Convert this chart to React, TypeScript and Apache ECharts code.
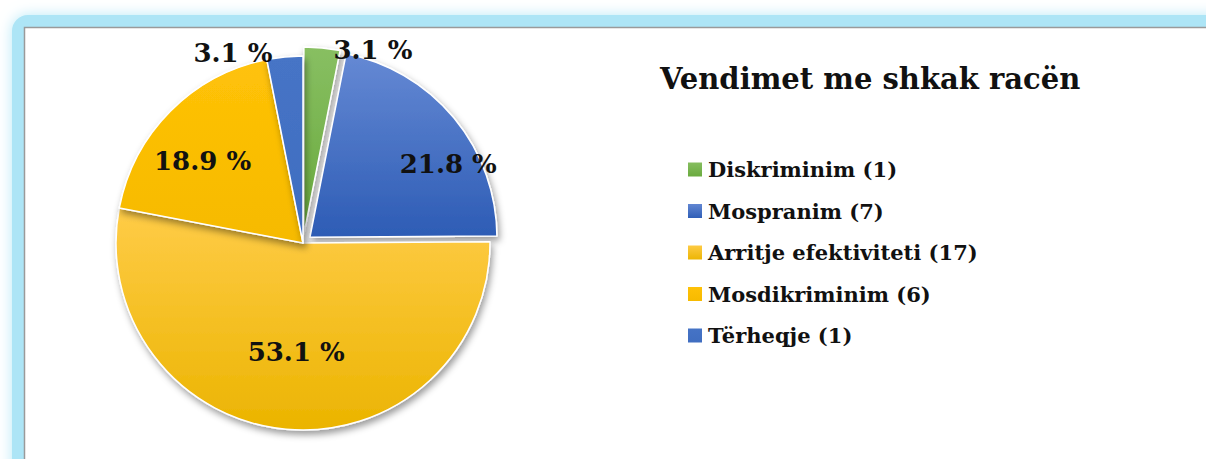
import React, { useEffect, useRef } from "react";
import * as echarts from "echarts";

const categories = ["Diskriminim", "Mospranim", "Arritje efektiviteti", "Mosdikriminim", "Tërheqje"];
const counts = [1, 7, 17, 6, 1];
const percents = [3.1, 21.8, 53.1, 18.9, 3.1];
const percentLabels = ["3.1 %", "21.8 %", "53.1 %", "18.9 %", "3.1 %"];
const exploded = [true, true, false, false, false];
const titleText = "Vendimet me shkak racën";

const FONT = "'DejaVu Serif', 'Liberation Serif', serif";

const gradients: [string, string][] = [
  ["#88BF62", "#68A93C"],
  ["#6589D4", "#2D5CB5"],
  ["#FFCC48", "#EBB400"],
  ["#FFC208", "#F6BA00"],
  ["#4674C6", "#3F6DC0"],
];

// label nudges (visual style, mimicking Excel "best fit" placement)
const labelNudge: Record<number, [number, number]> = {
  0: [7, 6],
  1: [64, -12],
  2: [2, 13],
  3: [-32, -14],
  4: [-8, 0],
};

export default function App() {
  const ref = useRef<HTMLDivElement>(null);
  useEffect(() => {
    document.body.style.margin = "0";
    const chart = echarts.init(ref.current!, null, { renderer: "svg" });
    const data = categories.map((c, i) => {
      const small = percents[i] < 5;
      return {
        name: `${c} (${counts[i]})`,
        value: percents[i],
        selected: exploded[i],
        itemStyle: {
          color: new echarts.graphic.LinearGradient(0, 0, 0, 1, [
            { offset: 0, color: gradients[i][0] },
            { offset: 1, color: gradients[i][1] },
          ]),
        },
        label: small ? { position: "outside" } : { position: "inside" },
        labelLine: { show: false, length: 4, length2: 0 },
      };
    });
    chart.setOption({
      animation: false,
      backgroundColor: "#ffffff",
      graphic: [
        {
          type: "rect",
          z: -10,
          shape: { x: 12, y: 15, width: 1400, height: 700, r: 16 },
          style: { fill: "#ade5f6", shadowBlur: 14, shadowColor: "#b8e9f8" },
          silent: true,
        },
        {
          type: "rect",
          z: -9,
          shape: { x: 24.5, y: 27.5, width: 1400, height: 700 },
          style: { fill: "#ffffff", stroke: "#9a9a9a", lineWidth: 1.5 },
          silent: true,
        },
      ],
      title: {
        text: titleText,
        left: 655,
        top: 59,
        textStyle: { fontFamily: FONT, fontWeight: "bold", fontSize: 29, color: "#111" },
      },
      legend: {
        orient: "vertical",
        left: 681,
        top: 154,
        itemWidth: 16,
        itemHeight: 16,
        itemGap: 20.5,
        icon: "rect",
        selectedMode: false,
        textStyle: { fontFamily: FONT, fontWeight: "bold", fontSize: 21, color: "#111" },
      },
      series: [
        {
          type: "pie",
          center: [303, 243],
          radius: 187,
          startAngle: 90,
          clockwise: true,
          selectedMode: "multiple",
          selectedOffset: 9,
          avoidLabelOverlap: false,
          emphasis: { disabled: true },
          select: { itemStyle: {} },
          itemStyle: {
            borderColor: "#ffffff",
            borderWidth: 1.5,
            shadowBlur: 7,
            shadowOffsetX: 2,
            shadowOffsetY: 4,
            shadowColor: "rgba(0,0,0,0.4)",
          },
          label: {
            show: true,
            formatter: (p: any) => percentLabels[p.dataIndex],
            fontFamily: FONT,
            fontWeight: "bold",
            fontSize: 26,
            color: "#111",
            distanceToLabelLine: 4,
          },
          labelLayout: (p: any) => {
            const n = labelNudge[p.dataIndex];
            return n ? { dx: n[0], dy: n[1] } : {};
          },
          data,
        },
      ],
    });
    return () => chart.dispose();
  }, []);
  return <div ref={ref} style={{ position: "fixed", left: 0, top: 0, width: 1206, height: 459 }} />;
}
